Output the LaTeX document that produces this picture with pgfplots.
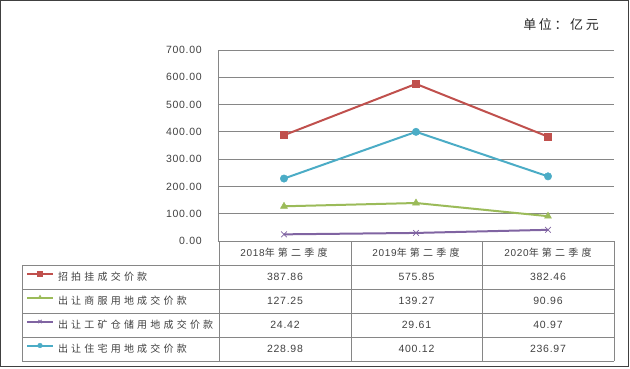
\documentclass[border=0pt]{standalone}
\usepackage{pgfplots}
\pgfplotsset{compat=1.18}
\usepackage{fontspec}
\setmainfont{Liberation Sans}
\newfontfamily\cjk{Noto Sans CJK SC}[LetterSpace=32]
\newfontfamily\cjkt{Noto Sans CJK SC}[LetterSpace=20]
\newfontfamily\num{Liberation Sans}[LetterSpace=7]
\definecolor{cred}{HTML}{C0504D}
\definecolor{cgreen}{HTML}{9BBB59}
\definecolor{cpurple}{HTML}{8064A2}
\definecolor{ccyan}{HTML}{4BACC6}
\definecolor{gridc}{HTML}{868686}
\definecolor{txt}{HTML}{404040}
\begin{document}
\begin{tikzpicture}[x=1pt,y=1pt]
\useasboundingbox (0,0) rectangle (630,-368);
\draw[black!75, line width=1pt] (0.5,-0.5) rectangle (628.5,-366.5);
% table lines
\begin{scope}[gridc, line width=0.75pt]
\foreach \yy in {265,289,313,337,361} \draw (22,-\yy) -- (614,-\yy);
\draw (22,-265) -- (22,-361);
\foreach \xx in {219,351,482,614} \draw (\xx,-241) -- (\xx,-361);
\end{scope}
\node[anchor=east, text=black!85, inner sep=0pt] at (599,-25) {\cjkt\fontsize{13}{15}\selectfont 单位：亿元};
\begin{axis}[
  at={(218pt,-241pt)}, anchor=south west,
  scale only axis, width=396pt, height=191pt,
  xmin=-0.5, xmax=2.5, ymin=0, ymax=700,
  xtick={0,1,2},
  xticklabels={{\num 2018}{\cjk 年第二季度}, {\num 2019}{\cjk 年第二季度}, {\num 2020}{\cjk 年第二季度}},
  xticklabel style={font=\fontsize{10}{12}\selectfont, text=txt, anchor=center, yshift=-12pt, inner sep=0pt},
  ytick={0,100,...,700},
  ymajorgrids, grid style={gridc, line width=0.75pt},
  axis x line*=bottom, axis y line*=left,
  axis line style={gridc, line width=0.75pt, -},
  major tick length=0pt,
  yticklabel style={font=\num\fontsize{10.5}{12}\selectfont, text=txt, anchor=east, inner sep=0pt, xshift=-16pt,
    /pgf/number format/fixed, /pgf/number format/fixed zerofill, /pgf/number format/precision=2,
    /pgf/number format/assume math mode=true},
  clip=false,
  legend style={at={(axis description cs:-0.4848,-0.1257)}, anchor=north west, draw=none, fill=none,
    inner sep=0pt, outer sep=0pt, row sep=0pt,
    nodes={inner sep=0pt, minimum height=24pt, font=\cjk\fontsize{10}{12}\selectfont, text=txt},
    /tikz/every odd column/.style={column sep=4pt}},
  legend cell align=left,
  legend image code/.code={\draw[mark repeat=2,mark phase=2, mark size=2.3pt] plot coordinates {(0pt,3.5pt)(13pt,3.5pt)(26pt,3.5pt)};},
]
\addplot[cred, line width=2pt, mark=square*, mark size=3.5pt, mark options={solid, line width=0.5pt}] coordinates {(0,387.86)(1,575.85)(2,382.46)};
\addlegendentry{招拍挂成交价款}
\addplot[cgreen, line width=2pt, mark=triangle*, mark size=4pt, mark options={solid, line width=0.5pt}] coordinates {(0,127.25)(1,139.27)(2,90.96)};
\addlegendentry{出让商服用地成交价款}
\addplot[cpurple, line width=2pt, mark=x, mark size=4pt, mark options={solid, line width=0.8pt}] coordinates {(0,24.42)(1,29.61)(2,40.97)};
\addlegendentry{出让工矿仓储用地成交价款}
\addplot[ccyan, line width=2pt, mark=*, mark size=3.7pt, mark options={solid, line width=0.5pt}] coordinates {(0,228.98)(1,400.12)(2,236.97)};
\addlegendentry{出让住宅用地成交价款}
\end{axis}
% data table values
\begin{scope}[every node/.style={text=txt, inner sep=0pt, font=\num\fontsize{10.5}{12}\selectfont}]
\node at (285,-277) {387.86}; \node at (416.5,-277) {575.85}; \node at (548,-277) {382.46};
\node at (285,-301) {127.25}; \node at (416.5,-301) {139.27}; \node at (548,-301) {90.96};
\node at (285,-325) {24.42};  \node at (416.5,-325) {29.61};  \node at (548,-325) {40.97};
\node at (285,-349) {228.98}; \node at (416.5,-349) {400.12}; \node at (548,-349) {236.97};
\end{scope}
\end{tikzpicture}
\end{document}
